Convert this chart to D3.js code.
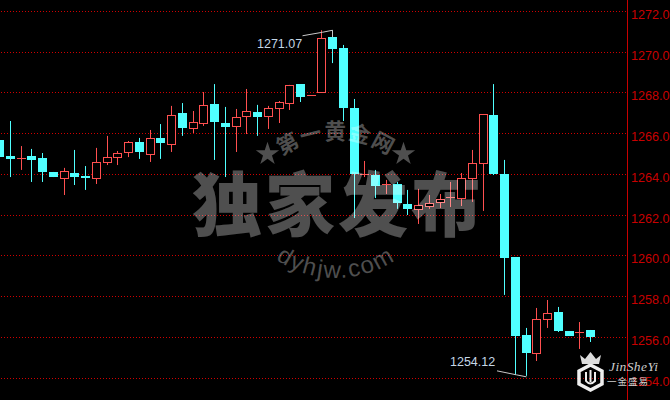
<!DOCTYPE html>
<html><head><meta charset="utf-8">
<script src="https://cdn.jsdelivr.net/npm/d3@7"></script>
<style>html,body{margin:0;padding:0;background:#000;overflow:hidden}svg{display:block}</style>
</head><body><svg id="c" width="670" height="400"></svg>
<script>
const tickLabels=[1272,1270,1268,1266,1264,1262,1260,1258,1256,1254];
const opens =[1265.69,1264.90,1264.79,1264.90,1264.79,1264.12,1263.83,1264.07,1263.92,1263.83,1264.61,1264.85,1265.10,1265.59,1265.00,1265.79,1265.49,1267.01,1266.28,1266.52,1267.45,1266.52,1266.38,1266.87,1267.06,1266.87,1267.26,1267.50,1268.43,1267.88,1268.04,1270.74,1270.20,1267.26,1264.02,1263.97,1263.53,1263.53,1262.55,1262.31,1262.45,1262.65,1262.88,1262.84,1263.83,1264.56,1266.91,1264.02,1259.95,1256.13,1255.24,1256.91,1257.25,1256.32,1256.27,1256.37];
const closes=[1264.85,1264.76,1264.79,1264.71,1264.12,1263.87,1264.17,1263.87,1263.83,1264.61,1264.85,1265.05,1265.59,1265.10,1265.79,1265.54,1266.91,1266.28,1266.57,1267.41,1266.57,1266.33,1266.82,1267.11,1266.82,1267.26,1267.55,1268.39,1267.80,1267.88,1270.69,1270.15,1267.26,1264.02,1264.02,1263.43,1263.53,1262.60,1262.31,1262.50,1262.60,1262.80,1262.88,1263.83,1264.56,1266.96,1264.02,1259.90,1256.08,1255.24,1256.91,1257.20,1256.32,1256.08,1256.27,1256.03];
const highs =[1265.69,1266.62,1265.39,1265.25,1265.05,1264.12,1264.32,1265.20,1264.41,1265.30,1265.89,1265.15,1265.64,1265.79,1266.18,1266.47,1267.36,1267.50,1267.11,1268.04,1268.43,1267.31,1267.21,1268.19,1267.41,1267.36,1267.60,1268.39,1268.43,1267.88,1271.07,1271.07,1270.35,1267.70,1264.66,1264.22,1263.73,1263.63,1263.24,1263.29,1262.99,1263.04,1263.63,1264.07,1265.20,1266.96,1268.43,1264.71,1259.95,1256.47,1257.45,1257.84,1257.50,1256.32,1256.76,1256.37];
const lows  =[1264.85,1263.87,1264.22,1263.63,1263.63,1263.87,1262.99,1263.48,1263.24,1263.53,1264.46,1264.46,1264.85,1264.76,1264.61,1264.76,1265.10,1265.89,1266.03,1266.38,1264.71,1263.87,1265.10,1265.98,1265.89,1266.23,1266.52,1267.16,1267.55,1267.88,1268.04,1269.46,1266.62,1261.86,1263.87,1262.84,1263.04,1262.31,1262.01,1261.57,1262.31,1262.35,1262.40,1262.45,1262.65,1262.21,1263.97,1258.09,1254.16,1254.12,1254.85,1256.47,1256.27,1256.08,1255.44,1255.78];
const noteHigh=1271.07, noteLow=1254.12, noteHighIndex=31, noteLowIndex=49;

const svg=d3.select('#c');
const W=670,H=400,axisX=627.5;
svg.append('rect').attr('width',W).attr('height',H).attr('fill','#000');
const x=d3.scaleLinear().domain([1,55]).range([10.5,590.5]);
const y=d3.scaleLinear().domain([1254,1272]).range([378.3,11.3]);
const px=i=>Math.floor(x(i))+0.5;
const RED='#ff5050',CY='#50ffff',GRID='#d00000',AX='#c80000';

const gGrid=svg.append('g');
gGrid.selectAll('line').data(tickLabels).join('line')
 .attr('x1',1).attr('x2',axisX).attr('y1',d=>Math.floor(y(d))+0.5).attr('y2',d=>Math.floor(y(d))+0.5)
 .attr('stroke',GRID).attr('stroke-width',1).attr('stroke-dasharray','1 2');

const idx=d3.range(opens.length);
const gc=svg.append('g');
gc.selectAll('line.w').data(idx).join('line').attr('class','w')
 .attr('x1',px).attr('x2',px).attr('y1',i=>y(highs[i])).attr('y2',i=>y(lows[i]))
 .attr('stroke',i=>closes[i]<opens[i]?CY:RED);
idx.forEach(i=>{
  const up=closes[i]>=opens[i];
  const top=Math.round(y(Math.max(opens[i],closes[i]))),bot=Math.round(y(Math.min(opens[i],closes[i])));
  if(up){
    if(bot-top<1){
      gc.append('line').attr('x1',px(i)-4.5).attr('x2',px(i)+4.5).attr('y1',top+.5).attr('y2',top+.5).attr('stroke',RED);
    }else{
      gc.append('rect').attr('x',px(i)-4).attr('width',8).attr('y',top+.5).attr('height',bot-top)
        .attr('fill','#000').attr('stroke',RED);
    }
  }else{
    gc.append('rect').attr('x',px(i)-4.5).attr('width',9).attr('y',top).attr('height',Math.max(1,bot-top)).attr('fill',CY);
  }
});

svg.append('line').attr('x1',axisX).attr('x2',axisX).attr('y1',0).attr('y2',H).attr('stroke',AX);
svg.append('g').selectAll('text').data(tickLabels).join('text')
 .attr('x',631).attr('y',d=>y(d)+7.5).text(d=>d.toFixed(1))
 .attr('fill',AX).attr('font-family','Liberation Sans').attr('font-size',12.6);

const wmFill='rgba(255,255,255,0.31)';
const ann=svg.append('g').attr('fill','none').attr('stroke','#c8c8c8');
const hx=px(noteHighIndex),hy=y(noteHigh),lx=px(noteLowIndex),ly=y(noteLow);
ann.append('path').attr('d',d3.line()([[hx-30,hy+5.5],[hx-10,hy+2],[hx,hy],[hx,hy+7]]));
ann.append('path').attr('d',d3.line()([[lx-29.5,ly-5],[lx-10,ly-1],[lx,ly+1]]));
const note=svg.append('g').attr('fill','#c4d6e6').attr('font-family','Liberation Sans').attr('font-size',12.5);
note.append('text').attr('x',257).attr('y',47.5).text(noteHigh.toFixed(2));
note.append('text').attr('x',450).attr('y',366).text(noteLow.toFixed(2));

const wm=svg.append('g').attr('fill',wmFill);
const defs=svg.append('defs');
defs.append('path').attr('id','a1').attr('d','M 243 232 A 93 93 0 0 1 429 232');
defs.append('path').attr('id','a2').attr('d','M 230 172 A 106 106 0 0 0 442 172');
wm.append('text').append('textPath').attr('href','#a1').attr('startOffset','50%').attr('text-anchor','middle')
 .attr('font-family','Noto Sans CJK SC').attr('font-weight',700).attr('font-size',21.5).attr('letter-spacing',1.5).text('第一黄金网');
wm.append('text').append('textPath').attr('href','#a2').attr('startOffset','50%').attr('text-anchor','middle')
 .attr('font-family','Liberation Sans').attr('font-size',24).attr('letter-spacing',1.8).text('dyhjw.com');
[267.5,403.5].forEach(cx=>wm.append('path').attr('d',d3.symbol(d3.symbolStar,170)()).attr('transform',`translate(${cx},154)`));
['独','家','发','布'].forEach((t,i)=>wm.append('text').attr('x',227+i*73).attr('y',231).attr('text-anchor','middle')
 .attr('font-family','Noto Sans CJK SC').attr('font-weight',900).attr('font-size',70).text(t));

idx.forEach(i=>{
  const top=Math.round(y(Math.max(opens[i],closes[i]))),bot=Math.round(y(Math.min(opens[i],closes[i])));
  if(closes[i]>=opens[i]&&bot-top>=2) svg.append('rect').attr('x',px(i)-3.5).attr('width',7).attr('y',top+1).attr('height',bot-top-1).attr('fill','#000');
});

const logo=svg.append('g').attr('fill','none');
logo.append('path').attr('d','M590.5 365 L602 371 L602 384 L590.5 390 L579 384 L579 371 Z').attr('stroke','#eee').attr('stroke-width',3.5);
logo.append('path').attr('d','M586 372 L586 381 Q590 386 595 381 L595 372 M590.5 370 L590.5 382').attr('stroke','#eee').attr('stroke-width',2);
logo.append('path').attr('d','M580 355 L585 359 L590.5 352 L596 359 L601 355 L599 364 L582 364 Z').attr('fill','#ddd');
const lt=svg.append('g').attr('fill','#ccc');
lt.append('text').attr('x',609).attr('y',371).attr('font-family','Liberation Serif').attr('font-style','italic').attr('font-size',13.5).attr('letter-spacing',0.4).text('JinSheYi');
lt.append('text').attr('x',607).attr('y',385).attr('font-family','Noto Sans CJK SC').attr('font-size',9.5).attr('letter-spacing',1).text('一金盛易');
</script></body></html>
